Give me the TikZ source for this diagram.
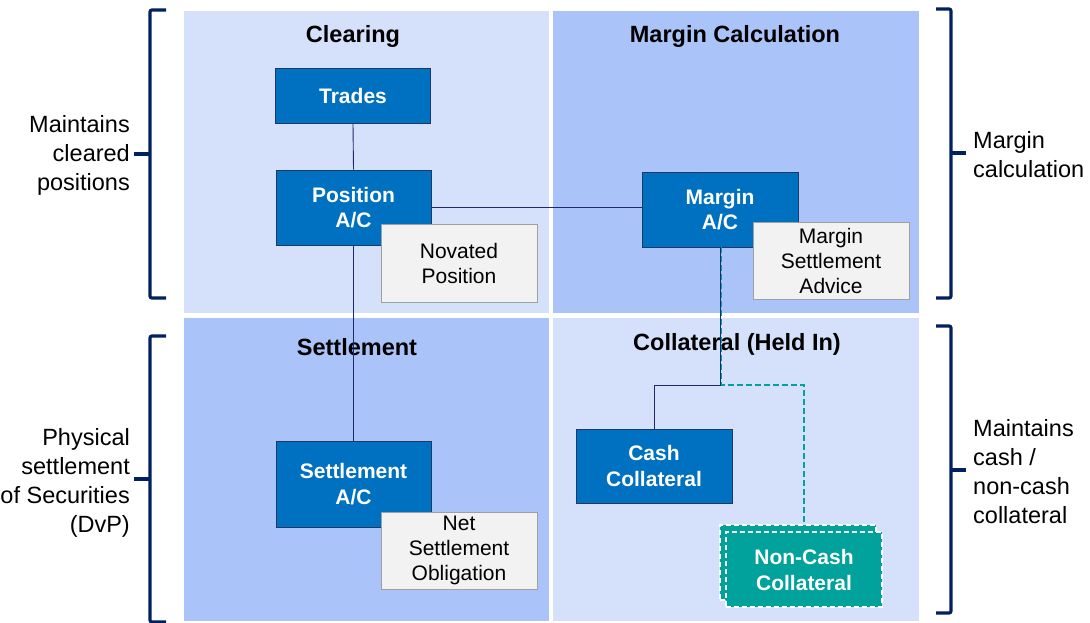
\documentclass[tikz,border=0pt]{standalone}
\usepackage{fontspec}
\setmainfont{Liberation Sans}
\begin{document}
\begin{tikzpicture}[x=1pt,y=-1pt,
  quadlight/.style={fill=qlight,draw=none},
  quaddark/.style={fill=qdark,draw=none},
  header/.style={font=\fontsize{23.5}{28}\selectfont\bfseries,inner sep=0pt,anchor=center},
  bluebox/.style={rectangle,fill=boxblue,draw=boxedge,line width=0.8pt,
    minimum width=155pt,text=white,align=center,inner sep=0pt,
    font=\fontsize{21}{25.5}\selectfont\bfseries},
  notebox/.style={rectangle,fill=notefill,draw=noteedge,line width=1pt,
    minimum width=156pt,minimum height=77pt,text=black,align=center,inner sep=0pt,
    font=\fontsize{21}{25}\selectfont},
  tealbox/.style={rectangle,fill=tealfill,draw=white,dash pattern=on 5pt off 3pt,line width=1.4pt,
    minimum width=156pt,minimum height=75pt,text=white,align=center,inner sep=0pt,
    font=\fontsize{21}{26}\selectfont\bfseries},
  link/.style={draw=linknavy,line width=0.9pt},
  tealink/.style={draw=tealfill,dash pattern=on 6pt off 3pt,line width=1.5pt},
  bracket/.style={draw=brknavy,line width=3.2pt,rounded corners=2pt},
  sidelabel/.style={font=\fontsize{23.5}{29}\selectfont,inner sep=0pt}
]
\definecolor{qlight}{HTML}{D5E1FA}
\definecolor{qdark}{HTML}{AAC3F8}
\definecolor{boxblue}{HTML}{0070C0}
\definecolor{boxedge}{HTML}{1F3864}
\definecolor{notefill}{HTML}{F2F2F2}
\definecolor{noteedge}{HTML}{A0A0A0}
\definecolor{tealfill}{HTML}{00A29B}
\definecolor{linknavy}{HTML}{1F2A6E}
\definecolor{brknavy}{HTML}{002060}

\useasboundingbox (0,0) rectangle (1090,623);
\fill[white] (0,0) rectangle (1090,623);

% quadrants
\fill[quadlight] (184,11) rectangle (549,313);
\fill[quaddark]  (553,11) rectangle (919,313);
\fill[quaddark]  (184,318) rectangle (549,621);
\fill[quadlight] (553,318) rectangle (919,621);

% quadrant titles
\node[header] (hclear)  at (353,36)  {Clearing};
\node[header] (hmargin) at (735,36)  {Margin Calculation};
\node[header] (hsettle) at (357,347) {Settlement};
\node[header] (hcoll)   at (737,344) {Collateral (Held In)};

% boxes
\node[bluebox,minimum height=55pt] (trades) at (353,95.5) {Trades};
\node[bluebox,minimum height=75pt] (posac) at (353.5,207.5) {Position\\A/C};
\node[bluebox,minimum height=75pt,minimum width=156pt] (marginac) at (720,209.5) {Margin\\A/C};
\node[bluebox,minimum height=86pt] (settleac) at (353.5,484) {Settlement\\A/C};
\node[bluebox,minimum height=74pt,minimum width=156pt] (cash) at (654,466) {Cash\\Collateral};

% connectors between boxes
\draw[link] (trades.south) -- (posac.north);
\draw[link] (posac.east) -- (marginac.west |- posac.east);
\draw[link] (posac.south) -- (settleac.north);

\coordinate (split) at (720,385);
\coordinate (splitb) at (721.5,385);
\draw[link] (marginac.south) -- (split) -| (cash.north);

% non-cash collateral (stacked)
\node[tealbox] (noncashback) at (798,562.5) {};
\node[tealbox] (noncash) at (804,569.5) {Non-Cash\\Collateral};
\draw[tealink] ([xshift=1.5pt]marginac.south) -- (splitb) -| (noncash.north);

% notes
\node[notebox,minimum height=78pt] (novated) at (459,263) {Novated\\Position};
\node[notebox] (msa) at (831,260.5) {Margin\\Settlement\\Advice};
\node[notebox] (nso) at (459,550.5) {Net\\Settlement\\Obligation};

% brackets
\draw[bracket] (166,10) -- (150,10) -- (150,298) -- (166,298);
\draw[bracket] (150,154) -- (134,154);
\draw[bracket] (166,336) -- (150,336) -- (150,622) -- (166,622);
\draw[bracket] (150,479) -- (134,479);
\draw[bracket] (936,9) -- (951,9) -- (951,298) -- (936,298);
\draw[bracket] (951,153) -- (966,153);
\draw[bracket] (936,326) -- (951,326) -- (951,613) -- (936,613);
\draw[bracket] (951,470) -- (966,470);

% side labels
\node[sidelabel,anchor=east,align=right] (lclear) at (130,155)
  {Maintains\\cleared\\positions};
\node[sidelabel,anchor=east,align=right] (lsettle) at (130,482.5)
  {Physical\\settlement\\of Securities\\(DvP)};
\node[sidelabel,anchor=west,align=left] (lmargin) at (973,155)
  {Margin\\calculation};
\node[sidelabel,anchor=west,align=left] (lcoll) at (973,472)
  {Maintains\\cash /\\non-cash\\collateral};
\end{tikzpicture}
\end{document}
